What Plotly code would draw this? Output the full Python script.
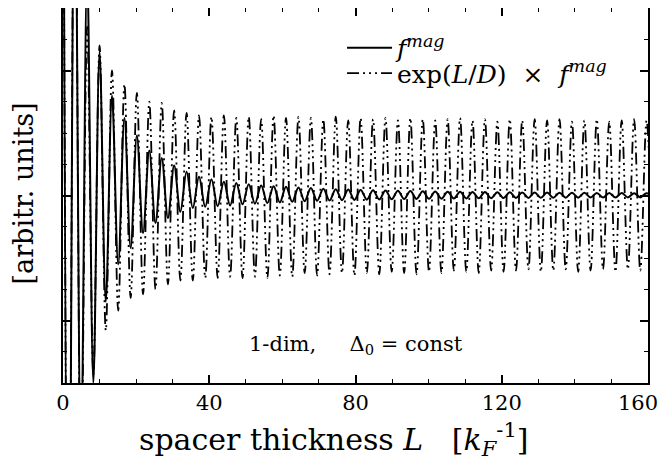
import plotly.graph_objects as go

# Positions of successive extrema (peak, trough, peak, ...), in k_F^-1
L_EXT = [
    0.0, 1.5, 3.2, 4.9, 6.6, 8.3, 10.0, 11.7, 13.4, 15.1,
    16.8, 18.5, 20.2, 21.9, 23.6, 25.3, 27.0, 28.7, 30.4, 32.1,
    33.8, 35.5, 37.2, 38.9, 40.6, 42.3, 44.0, 45.7, 47.4, 49.1,
    50.8, 52.5, 54.2, 55.9, 57.6, 59.3, 61.0, 62.7, 64.4, 66.1,
    67.8, 69.5, 71.2, 72.9, 74.6, 76.3, 78.0, 79.7, 81.4, 83.1,
    84.8, 86.5, 88.2, 89.9, 91.6, 93.3, 95.0, 96.7, 98.4, 100.1,
    101.8, 103.5, 105.2, 106.9, 108.6, 110.3, 112.0, 113.7, 115.4, 117.1,
    118.8, 120.5, 122.2, 123.9, 125.6, 127.3, 129.0, 130.7, 132.4, 134.1,
    135.8, 137.5, 139.2, 140.9, 142.6, 144.3, 146.0, 147.7, 149.4, 151.1,
    152.8, 154.5, 156.2, 157.9, 159.6, 161.3,
]

# exp(L/D) x f^mag : extremum values (arbitrary units)
SCALED = [
    4.0, -4.0, 3.2, -2.4, 1.35, -1.43, 1.20, -1.08, 1.00, -0.92,
    0.89, -0.82, 0.82, -0.79, 0.75, -0.75, 0.74, -0.71, 0.68, -0.68,
    0.66, -0.68, 0.64, -0.66, 0.63, -0.66, 0.64, -0.65, 0.62, -0.66,
    0.63, -0.65, 0.61, -0.66, 0.64, -0.64, 0.62, -0.65, 0.63, -0.62,
    0.62, -0.64, 0.61, -0.63, 0.63, -0.62, 0.60, -0.64, 0.62, -0.62,
    0.61, -0.63, 0.62, -0.61, 0.60, -0.62, 0.62, -0.63, 0.61, -0.61,
    0.60, -0.62, 0.61, -0.60, 0.62, -0.61, 0.60, -0.62, 0.61, -0.60,
    0.59, -0.61, 0.61, -0.60, 0.60, -0.59, 0.61, -0.61, 0.60, -0.60,
    0.61, -0.59, 0.59, -0.61, 0.60, -0.60, 0.61, -0.59, 0.59, -0.61,
    0.60, -0.59, 0.61, -0.60, 0.60, -0.59,
]

# f^mag : extremum values (arbitrary units)
FMAG = [
    4.0, -4.0, 3.0, -2.2, 1.8, -1.5, 1.15, -0.85, 0.80, -0.55,
    0.62, -0.42, 0.48, -0.30, 0.36, -0.22, 0.30, -0.18, 0.24, -0.13,
    0.19, -0.10, 0.15, -0.09, 0.13, -0.085, 0.11, -0.08, 0.10, -0.07,
    0.09, -0.065, 0.08, -0.06, 0.075, -0.055, 0.07, -0.05, 0.065, -0.045,
    0.06, -0.042, 0.055, -0.04, 0.05, -0.037, 0.048, -0.035, 0.045, -0.033,
    0.042, -0.031, 0.04, -0.03, 0.038, -0.028, 0.036, -0.027, 0.034, -0.026,
    0.032, -0.025, 0.031, -0.024, 0.03, -0.023, 0.029, -0.022, 0.028, -0.021,
    0.027, -0.02, 0.026, -0.02, 0.025, -0.019, 0.024, -0.018, 0.024, -0.018,
    0.023, -0.017, 0.022, -0.017, 0.022, -0.016, 0.021, -0.016, 0.02, -0.015,
    0.02, -0.015, 0.019, -0.015, 0.019, -0.014,
]

X_TICKS = [0, 40, 80, 120, 160]
X_TICK_TEXT = ["0", "40", "80", "120", "160\u00a0\u00a0\u00a0"]

SERIF = "DejaVu Serif, Liberation Serif, serif"

n1 = min(len(L_EXT), len(SCALED))
n2 = min(len(L_EXT), len(FMAG))

fig = go.Figure()
fig.add_trace(go.Scatter(
    x=L_EXT[:n1], y=SCALED[:n1], mode="lines",
    line=dict(color="black", width=1.8, shape="spline", smoothing=1.0,
              dash="12px,4px,2px,4px,2px,4px,2px,4px"),
    name="exp(<i>L</i>/<i>D</i>)  \u00d7  <i>f</i><sup><i>mag</i></sup>",
    legend="legend2",
))
fig.add_trace(go.Scatter(
    x=L_EXT[:n2], y=FMAG[:n2], mode="lines",
    line=dict(color="black", width=2.0, shape="spline", smoothing=1.0),
    name="<i>f</i><sup><i>mag</i></sup>",
    legend="legend",
))

# The page keeps its 8px body margin: a 650x454 figure puts the plot box at
# x 63..648, y 8..383 inside the 666x470 window.
fig.update_layout(
    width=650, height=454, autosize=False,
    margin=dict(l=55, r=10, t=0, b=79),
    paper_bgcolor="white", plot_bgcolor="white",
    font=dict(family=SERIF, color="black", size=20),
    showlegend=True,
    legend=dict(x=0.477, y=0.955, xanchor="left", yanchor="top",
                bgcolor="rgba(255,255,255,0)", borderwidth=0,
                font=dict(family=SERIF, size=25), itemwidth=45),
    legend2=dict(x=0.477, y=0.887, xanchor="left", yanchor="top",
                 bgcolor="rgba(255,255,255,0)", borderwidth=0,
                 font=dict(family=SERIF, size=25), itemwidth=45),
)

fig.update_xaxes(
    range=[0, 160], tickvals=X_TICKS, ticktext=X_TICK_TEXT,
    ticks="inside", ticklen=8, tickwidth=1.5, tickcolor="black",
    minor=dict(dtick=10, ticks="inside", ticklen=4, tickwidth=1.2, tickcolor="black"),
    showline=True, linewidth=2, linecolor="black", mirror="allticks",
    showgrid=False, zeroline=False, ticklabeloverflow="allow", automargin=False,
    tickfont=dict(family=SERIF, size=21),
)
fig.update_yaxes(
    range=[-1.5, 1.5], tickvals=[-1, 0, 1], showticklabels=False,
    ticks="inside", ticklen=8, tickwidth=1.5, tickcolor="black",
    minor=dict(dtick=0.25, ticks="inside", ticklen=4, tickwidth=1.2, tickcolor="black"),
    showline=True, linewidth=2, linecolor="black", mirror="allticks",
    showgrid=False, zeroline=False, automargin=False,
)

fig.add_annotation(
    text="spacer thickness <i>L</i>   [<i>k</i><sub><i>F</i></sub><sup>-1</sup>]",
    xref="paper", yref="paper", x=0.463, y=-0.152, xanchor="center", yanchor="middle",
    showarrow=False, font=dict(family=SERIF, size=30),
)
fig.add_annotation(
    text="[arbitr. units]", textangle=-90,
    xref="paper", yref="paper", x=-0.067, y=0.505, xanchor="center", yanchor="middle",
    showarrow=False, font=dict(family=SERIF, size=27),
)
fig.add_annotation(
    text="1-dim,     \u0394<sub>0</sub> = const",
    xref="paper", yref="paper", x=0.5, y=0.101, xanchor="center", yanchor="middle",
    showarrow=False, font=dict(family=SERIF, size=21),
)

fig.write_html(
    "out.html",
    config={"responsive": False, "displayModeBar": False},
)
